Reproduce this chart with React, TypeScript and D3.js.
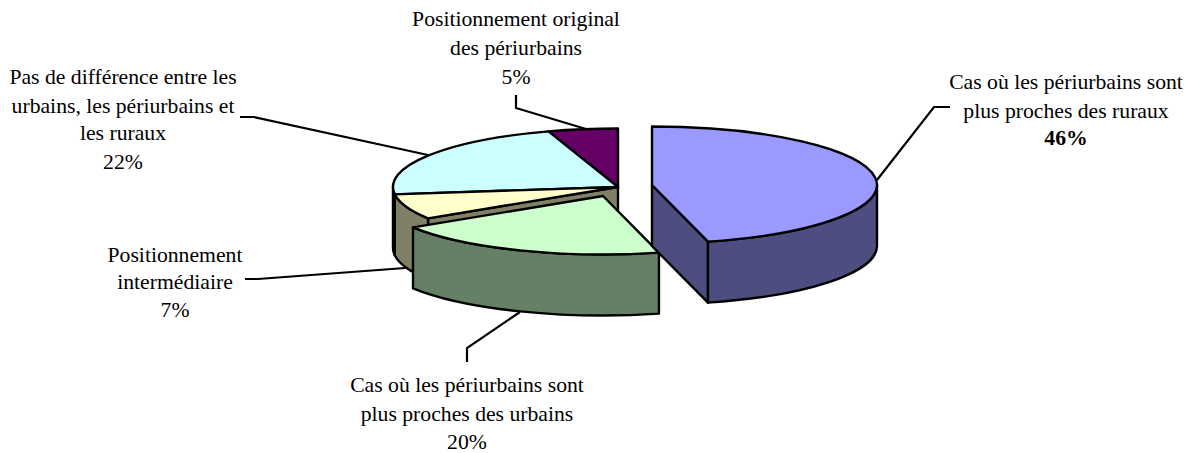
import React from "react";
import * as d3 from "d3";

const values = [46, 20, 7, 22, 5];
const topColors = ["#9999ff", "#ccffcc", "#ffffcc", "#ccffff", "#660066"];
const sideColors = ["#4d4d80", "#668066", "#808066", "#668080", "#330033"];
const centersX = [652, 603, 618, 618, 618];
const centersY = [185, 196, 187, 187, 187];
const labels = [
  { x: 1066, ys: [89, 118, 145], lines: ["Cas où les périurbains sont", "plus proches des ruraux", "46%"], boldLast: true },
  { x: 467, ys: [392, 421, 449], lines: ["Cas où les périurbains sont", "plus proches des urbains", "20%"] },
  { x: 175, ys: [262, 289, 317], lines: ["Positionnement", "intermédiaire", "7%"] },
  { x: 123, ys: [84, 113, 140, 169], lines: ["Pas de différence entre les", "urbains, les périurbains et", "les ruraux", "22%"] },
  { x: 516, ys: [26, 55, 84], lines: ["Positionnement original", "des périurbains", "5%"] },
];
const leaders: [number, number][][] = [
  [[877, 180], [934, 107], [950, 107]],
  [[520, 312], [467, 348], [467, 362]],
  [[405, 268], [258, 279], [245, 279]],
  [[428, 155], [254, 117], [240, 117]],
  [[586, 129], [516, 108], [516, 95]],
];

const RX = 225;
const RY = 58.5;
const DEPTH = 61;
const TAU = Math.PI * 2;

const arcs = d3.pie<number>().sort(null).startAngle(0).endAngle(TAU)(values);

type Pt = [number, number];
function pt(i: number, a: number, dy = 0): Pt {
  return [centersX[i] + RX * Math.sin(a), centersY[i] - RY * Math.cos(a) + dy];
}
function top(i: number): string {
  const { startAngle: a0, endAngle: a1 } = arcs[i];
  const s = pt(i, a0);
  const e = pt(i, a1);
  const large = a1 - a0 > Math.PI ? 1 : 0;
  return `M${centersX[i]},${centersY[i]}L${s}A${RX},${RY} 0 ${large} 1 ${e}Z`;
}
function outerWall(i: number): string | null {
  const a0 = Math.max(arcs[i].startAngle, Math.PI / 2);
  const a1 = Math.min(arcs[i].endAngle, (3 * Math.PI) / 2);
  if (a1 <= a0) return null;
  return `M${pt(i, a0)}A${RX},${RY} 0 0 1 ${pt(i, a1)}L${pt(i, a1, DEPTH)}A${RX},${RY} 0 0 0 ${pt(i, a0, DEPTH)}Z`;
}
function radialWall(i: number, a: number): string {
  const c: Pt = [centersX[i], centersY[i]];
  return `M${c}L${pt(i, a)}L${pt(i, a, DEPTH)}L${c[0]},${c[1] + DEPTH}Z`;
}

const stroke = { stroke: "#000", strokeWidth: 2.4, strokeLinejoin: "round" as const };
const line = d3.line();

function Slice({ i, wall }: { i: number; wall?: number }) {
  const o = outerWall(i);
  return (
    <g {...stroke}>
      {wall !== undefined && <path d={radialWall(i, wall)} fill={sideColors[i]} />}
      {o && <path d={o} fill={sideColors[i]} />}
      <path d={top(i)} fill={topColors[i]} />
    </g>
  );
}

export default function App() {
  return (
    <svg width={1192} height={453} viewBox="0 0 1192 453" style={{ position: "absolute", left: 0, top: 0, background: "#fff" }}>
      {leaders.map((l, i) => (
        <path key={i} d={line(l) as string} fill="none" stroke="#000" strokeWidth={2.2} />
      ))}
      <Slice i={4} />
      <Slice i={3} />
      <Slice i={2} wall={arcs[2].startAngle} />
      <Slice i={1} />
      <Slice i={0} wall={arcs[0].endAngle} />
      <g fontFamily="'Liberation Serif', serif" fontSize={21.7} textAnchor="middle" fill="#000">
        {labels.map((lab, i) =>
          lab.lines.map((t, j) => (
            <text key={`${i}-${j}`} x={lab.x} y={lab.ys[j]} fontWeight={lab.boldLast && j === lab.lines.length - 1 ? "bold" : "normal"}>
              {t}
            </text>
          ))
        )}
      </g>
    </svg>
  );
}
